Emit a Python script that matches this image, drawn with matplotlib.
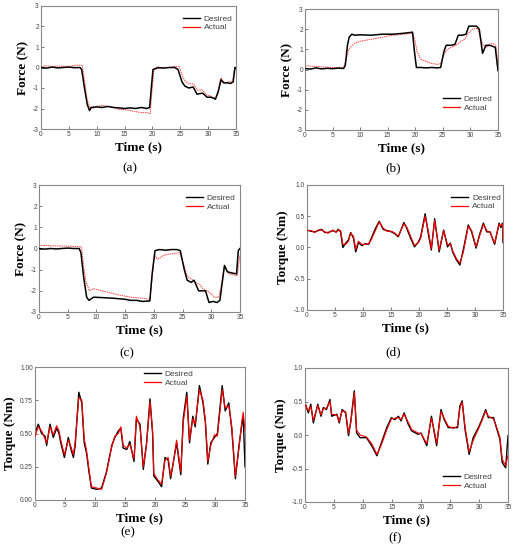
import numpy as np
import matplotlib
matplotlib.use("Agg")
import matplotlib.pyplot as plt
from matplotlib.lines import Line2D

# ---- data ----
# (a) force
ta_des = [0, 1, 2, 3, 4, 5, 6, 7, 7.3, 7.8, 8.3, 8.7, 9.0, 10, 11, 12, 13, 14, 15, 16, 17, 18, 19, 19.5, 19.8, 20.1, 21, 22, 23, 24, 24.6, 25.3, 25.8, 26.5, 27.3, 28.0, 29.0, 29.8, 30.5, 31.0, 31.3, 31.8, 32.3, 32.8, 33.5, 34.0, 34.5, 34.8, 35]
fa_des = [0.0, -0.03, 0.02, -0.02, 0.0, 0.02, -0.01, 0.0, -0.1, -1.0, -1.8, -2.1, -1.95, -1.92, -1.95, -1.9, -1.95, -1.97, -2.0, -1.97, -2.0, -1.95, -2.0, -1.95, -1.0, -0.1, 0.0, -0.03, 0.0, 0.0, -0.1, -0.7, -0.9, -1.0, -0.95, -1.3, -1.25, -1.45, -1.45, -1.5, -1.55, -1.2, -0.6, -0.75, -0.75, -0.78, -0.7, 0.0, -0.05]
ta_act = [0, 1, 2, 3, 4, 5, 6, 7, 7.4, 7.8, 8.3, 8.8, 9.2, 10, 11, 12, 13, 14, 15, 16, 17, 18, 19, 19.6, 19.9, 20.3, 21, 22, 23, 24, 24.8, 25.5, 26.0, 26.7, 27.4, 28.0, 29.0, 29.8, 30.5, 31.0, 31.4, 31.9, 32.3, 32.9, 33.5, 34.0, 34.4, 34.8, 35]
fa_act = [0.05, 0.08, 0.05, 0.07, 0.06, 0.05, 0.1, 0.12, 0.1, -0.6, -1.6, -1.95, -2.0, -1.9, -1.85, -1.9, -1.95, -2.05, -2.05, -2.1, -2.15, -2.2, -2.2, -2.25, -1.2, -0.1, -0.05, 0.0, 0.0, 0.05, 0.05, -0.5, -0.7, -0.8, -0.8, -1.1, -1.1, -1.35, -1.4, -1.5, -1.45, -1.0, -0.5, -0.75, -0.7, -0.7, -0.65, 0.0, -0.05]

# (b) force
tb_des = [0, 1, 2, 3, 4, 5, 6, 7, 7.3, 7.7, 8.0, 8.5, 9, 10, 12, 14, 16, 18, 19.5, 19.8, 20.2, 21, 22, 23, 24, 24.6, 25.2, 25.6, 26.5, 27.2, 27.8, 28.5, 29.2, 29.7, 30.5, 31.1, 31.6, 32.2, 32.8, 33.5, 34.0, 34.5, 34.8, 35]
fb_des = [0.05, 0.02, 0.08, 0.03, 0.06, 0.04, 0.07, 0.05, 0.2, 1.2, 1.6, 1.75, 1.7, 1.72, 1.7, 1.75, 1.75, 1.8, 1.85, 1.0, 0.1, 0.1, 0.08, 0.1, 0.08, 0.1, 0.9, 1.2, 1.2, 1.25, 1.7, 1.7, 1.75, 2.15, 2.15, 2.15, 2.0, 0.8, 1.2, 1.2, 1.15, 1.1, 0.4, -0.05]
tb_act = [0, 1, 2, 3, 4, 5, 6, 7, 7.4, 7.8, 8.2, 9, 10, 12, 14, 16, 18, 19.5, 19.9, 20.3, 21, 22, 23, 24, 24.6, 25.3, 25.8, 26.5, 27.4, 28.3, 29.0, 29.6, 30.4, 31.3, 31.8, 32.3, 33.0, 33.5, 34.0, 34.6, 35]
fb_act = [0.2, 0.17, 0.15, 0.13, 0.12, 0.1, 0.1, 0.1, 0.4, 0.9, 1.1, 1.3, 1.4, 1.5, 1.6, 1.7, 1.75, 1.8, 1.5, 0.9, 0.5, 0.4, 0.3, 0.25, 0.3, 0.8, 1.0, 1.1, 1.2, 1.4, 1.5, 1.8, 2.0, 2.05, 1.6, 1.2, 1.1, 1.25, 1.3, 1.2, 0.3]

# (c) force
tc_des = [0, 1, 2, 3, 4, 5, 6, 7, 7.3, 7.8, 8.3, 8.7, 9.5, 11, 13, 15, 16, 17, 18, 19.3, 19.7, 20.2, 21, 22, 23, 24, 24.6, 25.3, 25.8, 26.5, 27.0, 27.8, 29.0, 29.6, 30.3, 31.0, 31.5, 32.3, 32.8, 33.5, 34.4, 34.7, 35]
fc_des = [0.0, -0.03, 0.0, -0.02, 0.0, 0.02, 0.0, 0.0, -0.2, -1.4, -2.3, -2.45, -2.3, -2.32, -2.35, -2.4, -2.45, -2.45, -2.5, -2.48, -1.2, -0.1, -0.05, -0.08, -0.05, -0.05, -0.1, -1.0, -1.5, -1.6, -1.5, -2.0, -2.0, -2.55, -2.5, -2.55, -2.45, -0.8, -1.1, -1.15, -1.2, -0.1, 0.0]
tc_act = [0, 1, 2, 3, 4, 5, 6, 7, 7.4, 7.8, 8.2, 8.8, 9.5, 11, 12.5, 14, 16, 18, 19.3, 19.7, 20.1, 20.6, 21.0, 21.5, 22, 23, 24.5, 25.0, 25.8, 27.0, 28.0, 28.5, 29.3, 30.0, 30.5, 31.3, 31.7, 32.3, 33.0, 34.0, 34.5, 35]
fc_act = [0.15, 0.14, 0.13, 0.12, 0.12, 0.11, 0.1, 0.1, 0.05, -0.9, -1.6, -2.0, -1.9, -2.0, -2.1, -2.2, -2.3, -2.35, -2.4, -1.4, -0.3, -0.5, -0.45, -0.35, -0.3, -0.25, -0.2, -0.6, -1.3, -1.55, -1.7, -1.9, -2.0, -2.15, -2.3, -2.3, -1.8, -0.8, -1.2, -1.25, -1.3, -0.3]

# (d) torque
td = [0, 0.7, 1.4, 2.0, 2.6, 3.2, 3.8, 4.6, 5.2, 5.6, 6.0, 6.4, 6.9, 7.4, 7.8, 8.3, 8.7, 9.2, 9.8, 10.4, 11.0, 11.5, 12.2, 12.9, 13.6, 14.3, 15.1, 15.7, 16.3, 17.3, 17.8, 18.5, 19.2, 19.9, 20.3, 21.1, 21.7, 22.2, 22.8, 23.6, 24.4, 25.1, 25.6, 26.0, 26.7, 27.3, 27.9, 28.8, 29.4, 30.2, 30.8, 31.5, 32.1, 32.7, 33.5, 34.3, 34.6, 34.9, 35]
qd_des = [0.28, 0.26, 0.25, 0.27, 0.29, 0.24, 0.24, 0.27, 0.25, 0.29, 0.25, 0.0, 0.07, 0.12, 0.24, 0.15, -0.07, 0.08, 0.03, 0.06, 0.05, 0.15, 0.3, 0.42, 0.29, 0.27, 0.25, 0.22, 0.17, 0.4, 0.31, 0.15, 0.01, 0.09, 0.17, 0.54, 0.2, -0.04, 0.46, -0.07, 0.28, 0.01, 0.07, -0.07, -0.2, -0.28, -0.04, 0.36, 0.25, -0.01, 0.2, 0.39, 0.25, 0.25, 0.05, 0.39, 0.32, 0.39, 0.08]
qd_act = [0.27, 0.27, 0.24, 0.28, 0.28, 0.25, 0.23, 0.28, 0.24, 0.28, 0.27, 0.05, 0.05, 0.1, 0.23, 0.18, -0.03, 0.1, 0.05, 0.05, 0.06, 0.13, 0.27, 0.41, 0.31, 0.26, 0.26, 0.23, 0.18, 0.38, 0.33, 0.18, 0.03, 0.08, 0.15, 0.5, 0.25, -0.02, 0.43, -0.04, 0.27, 0.04, 0.06, -0.05, -0.18, -0.25, -0.08, 0.34, 0.27, 0.01, 0.18, 0.37, 0.27, 0.24, 0.07, 0.37, 0.35, 0.38, 0.1]

# (e) torque
te = [0, 0.55, 1.1, 1.67, 1.94, 2.5, 3.05, 3.6, 4.0, 4.3, 4.9, 5.55, 6.0, 6.4, 6.7, 7.3, 7.8, 8.2, 8.6, 9.0, 9.4, 10.3, 11.1, 11.9, 12.8, 13.3, 13.9, 14.3, 14.7, 15.3, 15.8, 16.5, 16.9, 17.5, 18.05, 18.6, 19.17, 19.6, 19.8, 20.5, 21.1, 21.67, 22.2, 22.6, 23.0, 23.6, 24.3, 24.7, 25.3, 25.75, 26.3, 26.7, 27.4, 28.0, 28.4, 28.8, 29.3, 29.9, 30.4, 31.2, 31.7, 32.3, 32.8, 33.4, 34.0, 34.5, 34.7, 35]
qe_des = [0.5, 0.57, 0.5, 0.48, 0.41, 0.57, 0.47, 0.54, 0.5, 0.43, 0.32, 0.47, 0.38, 0.32, 0.41, 0.81, 0.73, 0.43, 0.35, 0.21, 0.09, 0.08, 0.09, 0.21, 0.41, 0.47, 0.52, 0.54, 0.39, 0.38, 0.44, 0.29, 0.61, 0.57, 0.23, 0.43, 0.76, 0.5, 0.18, 0.14, 0.1, 0.32, 0.3, 0.16, 0.27, 0.43, 0.19, 0.61, 0.81, 0.43, 0.63, 0.55, 0.86, 0.73, 0.58, 0.27, 0.43, 0.47, 0.5, 0.86, 0.67, 0.73, 0.53, 0.16, 0.41, 0.58, 0.63, 0.25]
qe_act = [0.48, 0.55, 0.52, 0.46, 0.43, 0.55, 0.49, 0.56, 0.52, 0.45, 0.34, 0.45, 0.4, 0.34, 0.44, 0.77, 0.75, 0.46, 0.37, 0.23, 0.1, 0.09, 0.08, 0.2, 0.4, 0.48, 0.5, 0.55, 0.41, 0.39, 0.42, 0.31, 0.63, 0.55, 0.25, 0.42, 0.74, 0.52, 0.2, 0.15, 0.12, 0.3, 0.32, 0.18, 0.26, 0.45, 0.21, 0.58, 0.78, 0.45, 0.61, 0.57, 0.83, 0.75, 0.6, 0.29, 0.41, 0.49, 0.48, 0.83, 0.69, 0.71, 0.55, 0.18, 0.39, 0.6, 0.66, 0.52]

# (f) torque
tf = [0, 0.57, 1.0, 1.44, 2.2, 2.76, 3.16, 3.7, 4.3, 4.6, 5.5, 5.9, 6.4, 7.0, 7.5, 7.9, 8.5, 8.9, 9.5, 10.6, 11.5, 12.4, 13.2, 14.1, 14.9, 15.5, 16.1, 16.55, 17.1, 17.8, 18.4, 19.5, 20.0, 21.0, 21.8, 22.3, 22.7, 23.45, 24.0, 24.7, 25.6, 26.3, 26.7, 27.1, 27.6, 28.3, 29.0, 29.9, 30.5, 31.15, 31.6, 32.5, 33.0, 33.6, 34.0, 34.6, 35]
qf_des = [0.48, 0.33, 0.46, 0.18, 0.46, 0.28, 0.41, 0.38, 0.53, 0.28, 0.31, 0.18, 0.38, 0.33, -0.01, 0.21, 0.66, 0.03, -0.04, -0.04, -0.16, -0.31, -0.11, 0.11, 0.26, 0.23, 0.28, 0.21, 0.33, 0.16, 0.06, 0.01, 0.03, -0.16, 0.28, 0.03, -0.16, 0.38, 0.23, 0.11, 0.11, 0.11, 0.43, 0.51, 0.08, -0.29, -0.04, 0.11, 0.23, 0.38, 0.26, 0.26, 0.11, -0.06, -0.41, -0.49, -0.01]
qf_act = [0.45, 0.36, 0.43, 0.22, 0.44, 0.3, 0.39, 0.4, 0.5, 0.31, 0.3, 0.2, 0.36, 0.35, 0.03, 0.19, 0.63, 0.07, 0.0, -0.03, -0.13, -0.29, -0.14, 0.08, 0.24, 0.25, 0.26, 0.23, 0.31, 0.19, 0.08, 0.03, 0.02, -0.13, 0.25, 0.06, -0.12, 0.35, 0.25, 0.13, 0.1, 0.13, 0.4, 0.49, 0.12, -0.25, -0.08, 0.09, 0.21, 0.36, 0.28, 0.24, 0.13, -0.03, -0.36, -0.46, -0.3]

panels = [
    # (t_des, y_des, t_act, y_act, ylim, yticks, yfmt, ylabel, legend anchor, tag, box px l,r,t,b, tag px x,y)
    (ta_des, fa_des, ta_act, fa_act, (-3, 3), [-3, -2, -1, 0, 1, 2, 3], "%d", "Force (N)", (0.728, 0.927), "(a)", (41, 236, 6, 129), (130, 168)),
    (tb_des, fb_des, tb_act, fb_act, (-3, 3), [-3, -2, -1, 0, 1, 2, 3], "%d", "Force (N)", (0.715, 0.289), "(b)", (305, 498, 9, 130), (393, 168)),
    (tc_des, fc_des, tc_act, fc_act, (-3, 3), [-3, -2, -1, 0, 1, 2, 3], "%d", "Force (N)", (0.731, 0.929), "(c)", (39, 240, 185, 312), (127, 353)),
    (td, qd_des, td, qd_act, (-1, 1), [-1.0, -0.5, 0.0, 0.5, 1.0], "%.1f", "Torque (Nm)", (0.735, 0.928), "(d)", (307, 503, 185, 310), (393, 352)),
    (te, qe_des, te, qe_act, (0, 1), [0.0, 0.25, 0.5, 0.75, 1.0], "%.2f", "Torque (Nm)", (0.519, 0.977), "(e)", (35, 245, 367, 500), (128, 532)),
    (tf, qf_des, tf, qf_act, (-1, 1), [-1.0, -0.5, 0.0, 0.5, 1.0], "%.1f", "Torque (Nm)", (0.680, 0.216), "(f)", (305, 508, 368, 502), (395, 538)),
]

W, H = 514, 550
fig = plt.figure(figsize=(W / 100, H / 100), dpi=100)
serif = "Liberation Serif"
sans = "Liberation Sans"

for i, (t1, y1, t2, y2, ylim, yt, fmt, ylab, anchor, tag, box, tagpos) in enumerate(panels):
    l, r, t, b = box
    ax = fig.add_axes([l / W, 1 - b / H, (r - l) / W, (b - t) / H])
    if i < 3:
        ax.plot(t2, y2, color="#ff4040", lw=0.7, ls=(0, (1.5, 0.8)), zorder=2)
        ax.plot(t1, y1, color="black", lw=1.1, zorder=3)
    else:
        ax.plot(t1, y1, color="black", lw=1.0, zorder=2)
        ax.plot(t2, y2, color="red", lw=0.8, zorder=3)
    ax.set_xlim(0, 35)
    ax.set_ylim(*ylim)
    ax.set_xticks(range(0, 36, 5))
    ax.set_yticks(yt)
    ax.set_yticklabels([fmt % v for v in yt])
    ax.tick_params(direction="in", length=2, width=0.5, labelsize=4.8, pad=1.5, colors="#444444")
    for lab in ax.get_xticklabels() + ax.get_yticklabels():
        lab.set_fontfamily(sans)
    for s in ax.spines.values():
        s.set_color("#888888")
        s.set_linewidth(0.8)
    ax.set_xlabel("Time (s)", fontfamily=serif, fontweight="bold", fontsize=9.5, labelpad=2)
    ax.set_ylabel(ylab, fontfamily=serif, fontweight="bold", fontsize=9.5, labelpad=3)
    handles = [Line2D([], [], color="black", lw=1.0), Line2D([], [], color="red", lw=0.9)]
    ax.legend(handles, ["Desired", "Actual"], loc="upper left", bbox_to_anchor=anchor,
              frameon=False, prop={"family": sans, "size": 6}, handlelength=2.0,
              handletextpad=0.5, labelspacing=0.1, borderpad=0, borderaxespad=0,
              labelcolor="#444444")
    fig.text(tagpos[0] / W, 1 - tagpos[1] / H, tag, ha="center", va="center",
             fontfamily=serif, fontsize=9.5)

fig.savefig("out.png", dpi=100)
